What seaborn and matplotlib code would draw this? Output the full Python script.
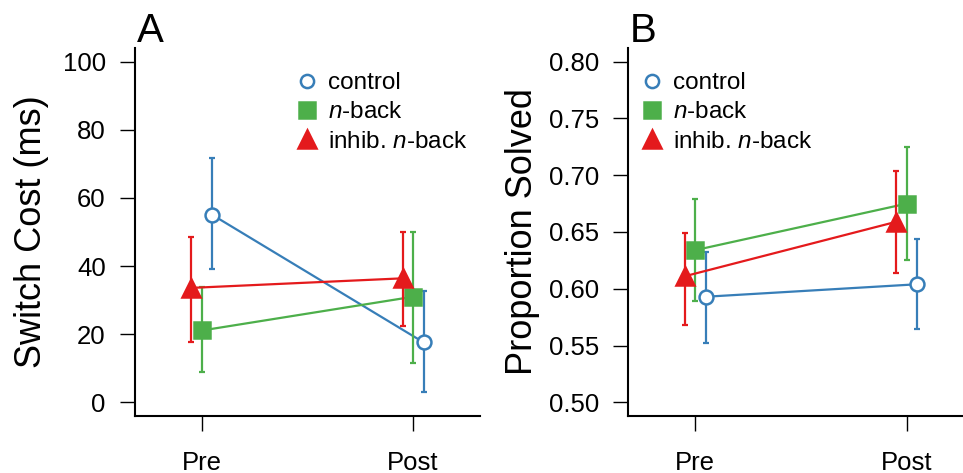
import numpy as np
import pandas as pd
import matplotlib
matplotlib.use("Agg")
import matplotlib.pyplot as plt
from matplotlib.lines import Line2D
import seaborn as sns

sns.set_style("ticks")
plt.rcParams["font.family"] = ["Liberation Sans", "DejaVu Sans"]
plt.rcParams["mathtext.fontset"] = "custom"
plt.rcParams["mathtext.it"] = "Liberation Sans:italic"
plt.rcParams["mathtext.rm"] = "Liberation Sans"
for k in ["text.color", "axes.labelcolor", "xtick.color", "ytick.color", "axes.edgecolor"]:
    plt.rcParams[k] = "black"

sessions = ["Pre", "Post"]
groups = ["control", "n-back", "inhib. n-back"]
labels = ["control", r"$\it{n}$-back", r"inhib. $\it{n}$-back"]
colors = ["#377EB8", "#4DAF4A", "#E41A1C"]

# panel A: switch cost (ms)
switch_mean = {"control": [55.0, 17.6], "n-back": [21.1, 31.0], "inhib. n-back": [33.6, 36.4]}
switch_lo = {"control": [39.0, 3.0], "n-back": [8.8, 11.7], "inhib. n-back": [17.6, 22.3]}
switch_hi = {"control": [71.8, 32.6], "n-back": [34.0, 50.0], "inhib. n-back": [48.4, 50.0]}

# panel B: proportion solved
prop_mean = {"control": [0.593, 0.604], "n-back": [0.634, 0.675], "inhib. n-back": [0.611, 0.659]}
prop_lo = {"control": [0.5525, 0.565], "n-back": [0.589, 0.625], "inhib. n-back": [0.568, 0.614]}
prop_hi = {"control": [0.6325, 0.644], "n-back": [0.679, 0.725], "inhib. n-back": [0.649, 0.704]}

offsets = {"control": 0.05, "n-back": 0.0, "inhib. n-back": -0.05}
markers = {"control": "o", "n-back": "s", "inhib. n-back": "^"}
msizes = {"control": 10, "n-back": 11.5, "inhib. n-back": 13}


def make_df(mean, lo, hi):
    rows = []
    for g in groups:
        for i, s in enumerate(sessions):
            rows.append({"group": g, "session": s, "x": i + 1 + offsets[g],
                         "y": mean[g][i], "lo": lo[g][i], "hi": hi[g][i]})
    return pd.DataFrame(rows)


def draw(ax, df):
    for g, c in zip(groups, colors):
        sub = df[df["group"] == g]
        ax.errorbar(sub["x"], sub["y"], yerr=[sub["y"] - sub["lo"], sub["hi"] - sub["y"]],
                    fmt="none", ecolor=c, elinewidth=1.6, capsize=2.5, capthick=1.6)
        sns.lineplot(data=sub, x="x", y="y", ax=ax, color=c, marker=markers[g],
                     markersize=msizes[g], mec=c, mew=1.8,
                     mfc="white" if g == "control" else c,
                     lw=1.6, sort=False, errorbar=None, legend=False)


fig = plt.figure(figsize=(9.63, 4.73), dpi=100)
axA = fig.add_axes([135 / 963, 57 / 473, 345 / 963, 368 / 473])
axB = fig.add_axes([628 / 963, 57 / 473, 346 / 963, 368 / 473])

draw(axA, make_df(switch_mean, switch_lo, switch_hi))
draw(axB, make_df(prop_mean, prop_lo, prop_hi))

axA.set_ylim(-4, 104)
axA.set_yticks([0, 20, 40, 60, 80, 100])
axA.set_ylabel("Switch Cost (ms)", fontsize=26, labelpad=10)
axB.set_ylim(0.488, 0.812)
axB.set_yticks([0.50, 0.55, 0.60, 0.65, 0.70, 0.75, 0.80])
axB.set_yticklabels([f"{v:.2f}" for v in axB.get_yticks()])
axB.set_ylabel("Proportion Solved", fontsize=26, labelpad=6)

handles = [Line2D([], [], ls="none", marker=markers[g], color=c, markersize=msizes[g] * 0.95,
                  mfc="white" if g == "control" else c, mew=1.8)
           for g, c in zip(groups, colors)]

for ax, letter, lx in [(axA, "A", 0.435), (axB, "B", 0.005)]:
    ax.set_xlim(0.683, 2.317)
    ax.set_xticks([1, 2])
    ax.set_xticklabels(sessions)
    ax.set_xlabel("")
    sns.despine(ax=ax)
    for sp in ["left", "bottom"]:
        ax.spines[sp].set_linewidth(1.5)
    ax.tick_params(axis="both", labelsize=18.5, length=11, width=1.0, pad=10)
    ax.tick_params(axis="x", pad=14)
    ax.text(0.005, 1.016, letter, transform=ax.transAxes, fontsize=29,
            ha="left", va="baseline")
    ax.legend(handles, labels, loc="upper left", bbox_to_anchor=(lx, 0.961), frameon=False,
              fontsize=17.5, handlelength=1.0, handletextpad=0.37, labelspacing=0.3,
              borderaxespad=0)

fig.savefig("out.png", dpi=100)
